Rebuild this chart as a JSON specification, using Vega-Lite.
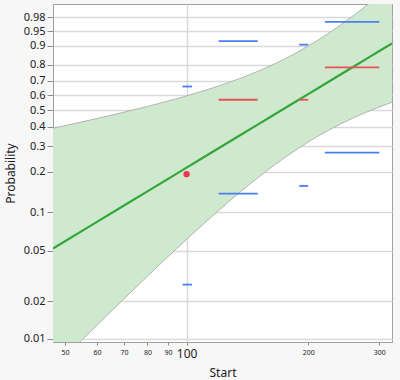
{
  "$schema": "https://vega.github.io/schema/vega-lite/v6.json",
  "width": 339,
  "height": 338,
  "autosize": {"type": "none"},
  "padding": {"left": 53, "top": 4, "right": 8, "bottom": 38},
  "background": "#f7f7f7",
  "config": {
    "view": {"fill": "white", "stroke": "#a0a0a0", "strokeWidth": 1},
    "font": "Noto Sans",
    "axis": {"domain": false, "labelColor": "#222222", "titleColor": "#222222", "titleFontWeight": "normal", "tickColor": "#8a8a8a", "gridColor": "#d9d9d9", "gridWidth": 1.5, "zindex": 1, "labelOverlap": false, "labelFlush": false, "tickCount": 30}
  },
  "datasets": {
    "band": [
      {"x": 46.7, "lo": 0.005768, "hi": 0.3925, "fit": 0.05226},
      {"x": 50, "lo": 0.007188, "hi": 0.4071, "fit": 0.05955},
      {"x": 55, "lo": 0.009755, "hi": 0.4286, "fit": 0.07138},
      {"x": 60, "lo": 0.012868, "hi": 0.4492, "fit": 0.08414},
      {"x": 70, "lo": 0.02091, "hi": 0.4885, "fit": 0.1122},
      {"x": 80, "lo": 0.03158, "hi": 0.5257, "fit": 0.1433},
      {"x": 90, "lo": 0.04511, "hi": 0.5615, "fit": 0.1772},
      {"x": 100, "lo": 0.06154, "hi": 0.5962, "fit": 0.2134},
      {"x": 110, "lo": 0.08078, "hi": 0.6301, "fit": 0.2513},
      {"x": 120, "lo": 0.1026, "hi": 0.6634, "fit": 0.2907},
      {"x": 135, "lo": 0.1396, "hi": 0.7125, "fit": 0.3514},
      {"x": 150, "lo": 0.1802, "hi": 0.7602, "fit": 0.4130},
      {"x": 165, "lo": 0.2226, "hi": 0.8058, "fit": 0.4740},
      {"x": 180, "lo": 0.2652, "hi": 0.8483, "fit": 0.5334},
      {"x": 200, "lo": 0.3198, "hi": 0.8980, "fit": 0.6085},
      {"x": 220, "lo": 0.3702, "hi": 0.9372, "fit": 0.6774},
      {"x": 240, "lo": 0.4154, "hi": 0.9652, "fit": 0.7388},
      {"x": 260, "lo": 0.4554, "hi": 0.98278, "fit": 0.7922},
      {"x": 280, "lo": 0.4908, "hi": 0.992511, "fit": 0.8376},
      {"x": 300, "lo": 0.5222, "hi": 0.997171, "fit": 0.8753},
      {"x": 322.5, "lo": 0.5533, "hi": 0.999213, "fit": 0.9093}
    ],
    "segs": [
      {"x0": 97.7, "x1": 103.2, "p": 0.66, "kind": "bound"},
      {"x0": 97.7, "x1": 103.2, "p": 0.0271, "kind": "bound"},
      {"x0": 120, "x1": 150, "p": 0.918, "kind": "bound"},
      {"x0": 120, "x1": 150, "p": 0.570, "kind": "estimate"},
      {"x0": 120, "x1": 150, "p": 0.138, "kind": "bound"},
      {"x0": 190, "x1": 200, "p": 0.904, "kind": "bound"},
      {"x0": 190, "x1": 200, "p": 0.570, "kind": "estimate"},
      {"x0": 190, "x1": 200, "p": 0.157, "kind": "bound"},
      {"x0": 220, "x1": 300, "p": 0.972, "kind": "bound"},
      {"x0": 220, "x1": 300, "p": 0.785, "kind": "estimate"},
      {"x0": 220, "x1": 300, "p": 0.272, "kind": "bound"}
    ],
    "pts": [
      {"x": 100, "p": 0.1915}
    ]
  },
  "layer": [
    {
      "data": {"name": "band"},
      "transform": [
        {"calculate": "log(-log(1 - datum.lo))", "as": "lo_u"},
        {"calculate": "log(-log(1 - datum.hi))", "as": "hi_u"}
      ],
      "mark": {"type": "area", "color": "#cfe9cf", "opacity": 1, "clip": true, "interpolate": "monotone"},
      "encoding": {
        "x": {"field": "x", "type": "quantitative", "title": "Start",
          "scale": {"type": "log", "domain": [46.7, 322.5], "nice": false},
          "axis": {
            "values": [50, 60, 70, 80, 90, 100, 200, 300],
            "format": "d",
            "tickCount": 30,
            "tickSize": 3,
            "labelPadding": 3,
            "labelFontSize": {"condition": {"test": "datum.value === 100", "value": 12}, "value": 7},
            "grid": true,
            "gridOpacity": {"condition": {"test": "datum.value === 100", "value": 1}, "value": 0},
            "titleFontSize": 12,
            "titlePadding": 8
          }
        },
        "y": {"field": "lo_u", "type": "quantitative", "title": "Probability",
          "scale": {"domain": [-4.658, 1.605], "nice": false, "zero": false},
          "axis": {
            "values": [-4.60015, -3.90194, -2.97020, -2.25037, -1.49994, -1.03093, -0.67173, -0.36651, -0.08742, 0.18563, 0.47588, 0.83403, 1.09719, 1.36405],
            "labelExpr": "format(1 - exp(-exp(datum.value)), '.2~f')",
            "tickCount": 30,
            "labelFontSize": 11,
            "tickSize": 6,
            "labelPadding": 2,
            "grid": true,
            "titleFontSize": 12,
            "titlePadding": 6
          }
        },
        "y2": {"field": "hi_u"}
      }
    },
    {
      "data": {"name": "band"},
      "transform": [{"calculate": "log(-log(1 - datum.lo))", "as": "lo_u"}],
      "mark": {"type": "line", "color": "#b3b3b3", "strokeWidth": 1, "clip": true, "interpolate": "monotone"},
      "encoding": {
        "x": {"field": "x", "type": "quantitative", "title": "Start"},
        "y": {"field": "lo_u", "type": "quantitative", "title": "Probability"}
      }
    },
    {
      "data": {"name": "band"},
      "transform": [{"calculate": "log(-log(1 - datum.hi))", "as": "hi_u"}],
      "mark": {"type": "line", "color": "#b3b3b3", "strokeWidth": 1, "clip": true, "interpolate": "monotone"},
      "encoding": {
        "x": {"field": "x", "type": "quantitative", "title": "Start"},
        "y": {"field": "hi_u", "type": "quantitative", "title": "Probability"}
      }
    },
    {
      "data": {"name": "band"},
      "transform": [{"calculate": "log(-log(1 - datum.fit))", "as": "fit_u"}],
      "mark": {"type": "line", "color": "#34a53c", "strokeWidth": 2.2, "clip": true},
      "encoding": {
        "x": {"field": "x", "type": "quantitative", "title": "Start"},
        "y": {"field": "fit_u", "type": "quantitative", "title": "Probability"}
      }
    },
    {
      "data": {"name": "segs"},
      "transform": [{"calculate": "log(-log(1 - datum.p))", "as": "u"}],
      "mark": {"type": "rule", "strokeWidth": 1.8},
      "encoding": {
        "x": {"field": "x0", "type": "quantitative", "title": "Start"},
        "x2": {"field": "x1"},
        "y": {"field": "u", "type": "quantitative", "title": "Probability"},
        "color": {"field": "kind", "type": "nominal", "legend": null,
          "scale": {"domain": ["bound", "estimate"], "range": ["#4a7ff0", "#e8505a"]}}
      }
    },
    {
      "data": {"name": "pts"},
      "transform": [{"calculate": "log(-log(1 - datum.p))", "as": "u"}],
      "mark": {"type": "circle", "size": 40, "color": "#f0344e", "opacity": 1},
      "encoding": {
        "x": {"field": "x", "type": "quantitative", "title": "Start"},
        "y": {"field": "u", "type": "quantitative", "title": "Probability"}
      }
    }
  ]
}
